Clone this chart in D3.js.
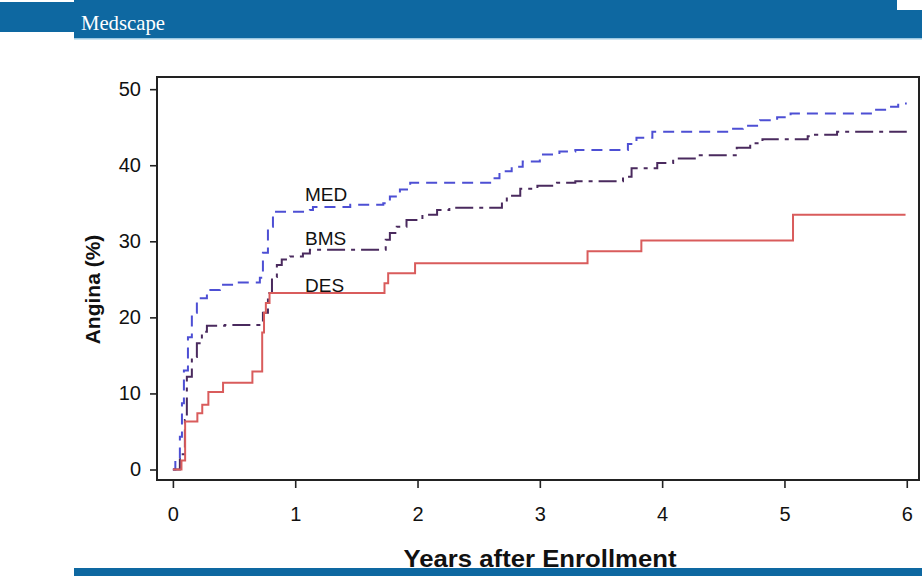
<!DOCTYPE html>
<html>
<head>
<meta charset="utf-8">
<script src="https://cdn.jsdelivr.net/npm/d3@7"></script>
<style>
  html, body { margin: 0; padding: 0; background: #fff; }
  svg { display: block; }
</style>
</head>
<body>
<svg id="chart" width="922" height="576"></svg>
<script>
// Cumulative incidence of angina by treatment arm: [years, percent] step points
const medSteps = [
  [0, 0], [0.02, 1.5], [0.057, 4.3], [0.074, 8.7], [0.09, 13.0], [0.123, 17.4],
  [0.155, 20.6], [0.196, 22.5], [0.278, 23.6], [0.384, 24.3], [0.507, 24.6],
  [0.711, 25.2], [0.736, 28.5], [0.777, 31.9], [0.818, 33.9], [1.12, 34.1],
  [1.145, 34.5], [1.45, 34.8], [1.72, 35.0], [1.774, 35.9], [1.856, 36.8],
  [1.94, 37.7], [2.62, 38.3], [2.67, 39.2], [2.77, 39.8], [2.86, 40.5],
  [3.0, 41.4], [3.16, 41.8], [3.29, 42.0], [3.72, 42.8], [3.79, 43.6],
  [3.92, 44.4], [4.58, 44.8], [4.66, 45.2], [4.8, 45.9], [4.94, 46.3],
  [5.05, 46.8], [5.74, 47.3], [5.84, 47.7], [5.93, 48.1], [6.0, 48.1]
];
const bmsSteps = [
  [0, 0], [0.057, 2.0], [0.098, 6.5], [0.114, 12.2], [0.155, 14.8], [0.196, 16.6],
  [0.237, 18.1], [0.278, 18.9], [0.425, 19.0], [0.736, 20.6], [0.777, 23.2],
  [0.81, 25.3], [0.85, 26.9], [0.89, 27.6], [0.957, 28.0], [1.063, 28.4],
  [1.12, 28.9], [1.74, 30.2], [1.774, 31.1], [1.83, 31.9], [1.91, 32.8],
  [2.04, 33.5], [2.16, 34.1], [2.26, 34.4], [2.69, 35.2], [2.73, 36.0],
  [2.84, 36.9], [2.98, 37.3], [3.14, 37.7], [3.29, 37.9], [3.68, 38.5],
  [3.75, 39.6], [3.96, 40.3], [4.09, 40.9], [4.28, 41.3], [4.61, 42.3],
  [4.72, 42.9], [4.82, 43.4], [5.19, 43.8], [5.25, 44.0], [5.43, 44.4],
  [6.0, 44.4]
];
const desSteps = [
  [0, 0], [0.07, 1.2], [0.1, 6.3], [0.2, 7.4], [0.24, 8.5], [0.29, 10.2],
  [0.41, 11.4], [0.65, 12.9], [0.73, 18.0], [0.745, 20.6], [0.76, 21.9],
  [0.79, 23.2], [1.73, 24.5], [1.76, 25.8], [1.98, 27.1], [3.39, 28.7],
  [3.83, 30.1], [5.07, 33.5], [5.99, 33.5]
];

const xTicks = [0, 1, 2, 3, 4, 5, 6];
const yTicks = [0, 10, 20, 30, 40, 50];
const seriesNames = ["MED", "BMS", "DES"];
// where each arm's name sits, in [years, percent]
const labelAnchors = [[1.08, 35.3], [1.08, 29.5], [1.08, 23.4]];

const svg = d3.select("#chart");
const W = 922, H = 576;
const brand = "#0e68a1";

// Masthead band
svg.append("rect").attr("x", 0).attr("y", 2).attr("width", 74).attr("height", 30).attr("fill", brand);
svg.append("rect").attr("x", 74).attr("y", 0).attr("width", W - 74).attr("height", 38).attr("fill", brand);
svg.append("rect").attr("x", 897).attr("y", 0).attr("width", 25).attr("height", 10).attr("fill", "#fff");
svg.append("rect").attr("x", 74).attr("y", 38).attr("width", W - 74).attr("height", 1.5).attr("fill", "#9cc9e2");
svg.append("text")
  .attr("x", 81).attr("y", 30)
  .attr("fill", "#fff")
  .attr("font-family", "'Liberation Serif', 'DejaVu Serif', serif")
  .attr("font-size", 21)
  .attr("textLength", 84).attr("lengthAdjust", "spacingAndGlyphs")
  .text("Medscape");

// Bottom band
svg.append("rect").attr("x", 74).attr("y", 568).attr("width", W - 74).attr("height", 8).attr("fill", brand);

// Plot scales
const plotLeft = 157, plotRight = 919, plotTop = 77, plotBottom = 480;
const x = d3.scaleLinear().domain([-0.13, 6.1]).range([plotLeft, plotRight]);
const y = d3.scaleLinear().domain([-1.38, 51.6]).range([plotBottom, plotTop]);

const font = "'Liberation Sans', Arial, Helvetica, sans-serif";

// Frame
svg.append("rect")
  .attr("x", plotLeft).attr("y", plotTop)
  .attr("width", plotRight - plotLeft).attr("height", plotBottom - plotTop)
  .attr("fill", "none").attr("stroke", "#222").attr("stroke-width", 2);

// Axes
const yAxis = svg.append("g")
  .attr("transform", `translate(${plotLeft},0)`)
  .call(d3.axisLeft(y).tickValues(yTicks).tickFormat(d3.format("d"))
    .tickSize(7).tickPadding(9).tickSizeOuter(0));
const xAxis = svg.append("g")
  .attr("transform", `translate(0,${plotBottom})`)
  .call(d3.axisBottom(x).tickValues(xTicks).tickFormat(d3.format("d"))
    .tickSize(8).tickPadding(19).tickSizeOuter(0));
[yAxis, xAxis].forEach(g => {
  g.select(".domain").remove();
  g.selectAll(".tick line").attr("stroke", "#222").attr("stroke-width", 1.6);
  g.selectAll(".tick text")
    .attr("fill", "#111")
    .attr("font-family", font)
    .attr("font-size", 20);
});

// Axis titles
svg.append("text")
  .attr("transform", `translate(100,${(plotTop + plotBottom) / 2 + 11}) rotate(-90)`)
  .attr("text-anchor", "middle")
  .attr("font-family", font).attr("font-weight", "bold").attr("font-size", 21)
  .attr("fill", "#111")
  .text("Angina (%)");
svg.append("text")
  .attr("x", 540).attr("y", 567)
  .attr("text-anchor", "middle")
  .attr("font-family", font).attr("font-weight", "bold").attr("font-size", 24)
  .attr("textLength", 273).attr("lengthAdjust", "spacingAndGlyphs")
  .attr("fill", "#111")
  .text("Years after Enrollment");

// Step curves
const line = d3.line()
  .x(d => x(d[0]))
  .y(d => y(d[1]))
  .curve(d3.curveStepAfter);

const styles = [
  { data: medSteps, color: "#4d4fd4", dash: "11,7" },
  { data: bmsSteps, color: "#4a2a5e", dash: "18,6,4,6" },
  { data: desSteps, color: "#d95c5c", dash: null }
];
styles.forEach(s => {
  const p = svg.append("path")
    .datum(s.data)
    .attr("d", line)
    .attr("fill", "none")
    .attr("stroke", s.color)
    .attr("stroke-width", 2);
  if (s.dash) p.attr("stroke-dasharray", s.dash);
});

// Arm names
svg.selectAll("text.arm")
  .data(seriesNames)
  .join("text")
  .attr("class", "arm")
  .attr("x", (d, i) => x(labelAnchors[i][0]))
  .attr("y", (d, i) => y(labelAnchors[i][1]))
  .attr("font-family", font)
  .attr("font-size", 19)
  .attr("fill", "#111")
  .text(d => d);
</script>
</body>
</html>
